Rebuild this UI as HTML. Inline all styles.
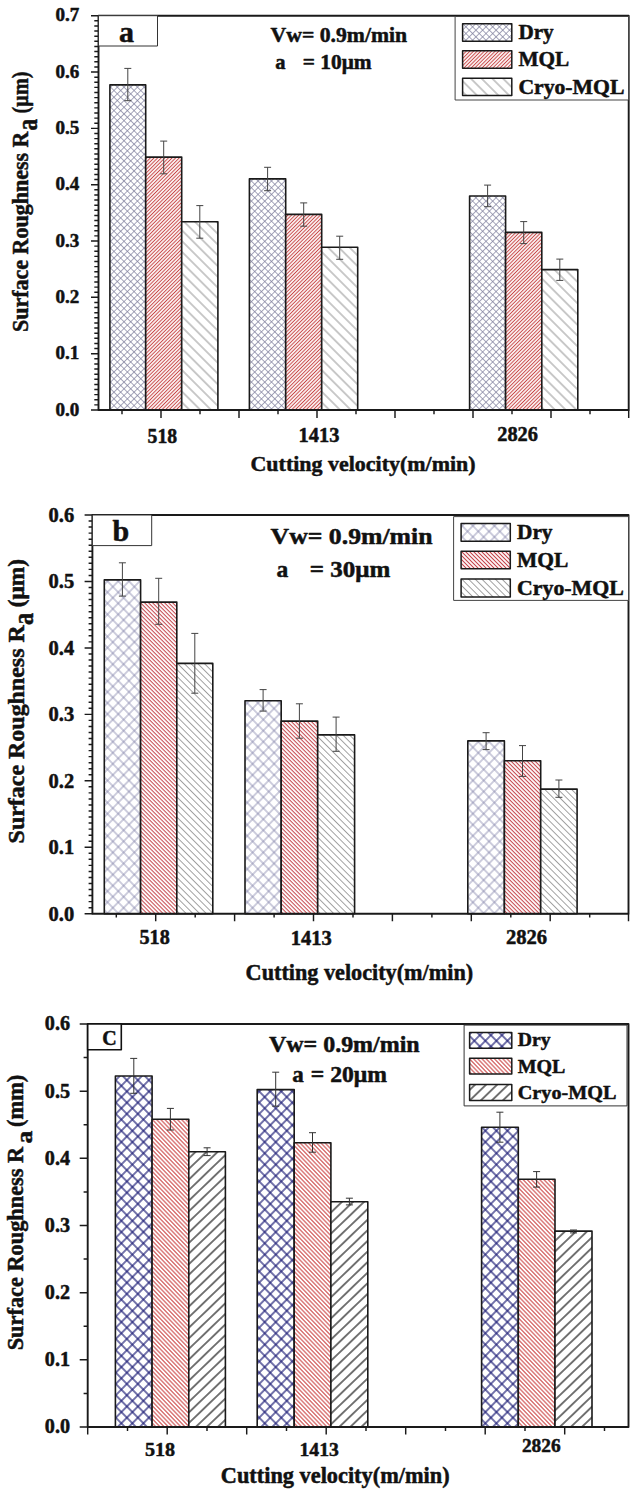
<!DOCTYPE html><html><head><meta charset="utf-8"><style>html,body{margin:0;padding:0;background:#fff}svg{display:block}</style></head><body><svg width="630" height="1489" viewBox="0 0 630 1489" font-family="Liberation Serif, serif" font-weight="bold" stroke="#111" stroke-width="0.5" stroke-linejoin="round" fill="#111">
<defs>
<pattern id="c1d" width="4.740" height="4.740" patternUnits="userSpaceOnUse" patternTransform="scale(1 1.0) rotate(45)"><line x1="2.370" y1="-1" x2="2.370" y2="5.740" stroke="#80809e" stroke-width="0.7"/><line x1="-1" y1="2.370" x2="5.740" y2="2.370" stroke="#80809e" stroke-width="0.7"/></pattern>
<pattern id="c1m" width="2.550" height="2.550" patternUnits="userSpaceOnUse" patternTransform="scale(1 1.0) rotate(45)"><line x1="1.275" y1="-1" x2="1.275" y2="3.550" stroke="#c84848" stroke-width="1.05"/></pattern>
<pattern id="c1c" width="7.600" height="7.600" patternUnits="userSpaceOnUse" patternTransform="scale(1 1.0) rotate(45)"><line x1="-1" y1="3.800" x2="8.600" y2="3.800" stroke="#909090" stroke-width="0.95"/></pattern>
<pattern id="c2d" width="7.600" height="7.600" patternUnits="userSpaceOnUse" patternTransform="scale(1 1.03) rotate(45)"><line x1="3.800" y1="-1" x2="3.800" y2="8.600" stroke="#7878a4" stroke-width="0.72"/><line x1="-1" y1="3.800" x2="8.600" y2="3.800" stroke="#7878a4" stroke-width="0.72"/></pattern>
<pattern id="c2m" width="2.830" height="2.830" patternUnits="userSpaceOnUse" patternTransform="scale(1 1.0) rotate(45)"><line x1="-1" y1="1.415" x2="3.830" y2="1.415" stroke="#c4444a" stroke-width="1.05"/></pattern>
<pattern id="c2c" width="4.740" height="4.740" patternUnits="userSpaceOnUse" patternTransform="scale(1 1.0) rotate(45)"><line x1="-1" y1="2.370" x2="5.740" y2="2.370" stroke="#969696" stroke-width="0.88"/></pattern>
<pattern id="c3d" width="7.800" height="7.800" patternUnits="userSpaceOnUse" patternTransform="scale(1 1.02) rotate(45)"><line x1="3.900" y1="-1" x2="3.900" y2="8.800" stroke="#1a1a74" stroke-width="1.2"/><line x1="-1" y1="3.900" x2="8.800" y2="3.900" stroke="#1a1a74" stroke-width="1.2"/></pattern>
<pattern id="c3m" width="2.950" height="2.950" patternUnits="userSpaceOnUse" patternTransform="scale(1 1.04) rotate(45)"><line x1="-1" y1="1.475" x2="3.950" y2="1.475" stroke="#cc4848" stroke-width="1.05"/></pattern>
<pattern id="c3c" width="7.800" height="7.800" patternUnits="userSpaceOnUse" patternTransform="scale(1 0.96) rotate(45)"><line x1="3.900" y1="-1" x2="3.900" y2="8.800" stroke="#151515" stroke-width="1.2"/></pattern>
</defs>
<rect width="630" height="1489" fill="#fff" stroke="none"/>
<rect x="109.9" y="84.9" width="35.8" height="325.1" fill="#fff" stroke="none"/>
<rect x="109.9" y="84.9" width="35.8" height="325.1" fill="url(#c1d)" stroke="#1a1a1a" stroke-width="1.6"/>
<rect x="145.7" y="157.1" width="36.0" height="252.9" fill="#fff" stroke="none"/>
<rect x="145.7" y="157.1" width="36.0" height="252.9" fill="url(#c1m)" stroke="#1a1a1a" stroke-width="1.6"/>
<rect x="181.7" y="221.8" width="36.2" height="188.2" fill="#fff" stroke="none"/>
<rect x="181.7" y="221.8" width="36.2" height="188.2" fill="url(#c1c)" stroke="#1a1a1a" stroke-width="1.6"/>
<rect x="249.4" y="178.9" width="36.3" height="231.1" fill="#fff" stroke="none"/>
<rect x="249.4" y="178.9" width="36.3" height="231.1" fill="url(#c1d)" stroke="#1a1a1a" stroke-width="1.6"/>
<rect x="285.7" y="214.4" width="36.0" height="195.6" fill="#fff" stroke="none"/>
<rect x="285.7" y="214.4" width="36.0" height="195.6" fill="url(#c1m)" stroke="#1a1a1a" stroke-width="1.6"/>
<rect x="321.7" y="247.3" width="36.0" height="162.7" fill="#fff" stroke="none"/>
<rect x="321.7" y="247.3" width="36.0" height="162.7" fill="url(#c1c)" stroke="#1a1a1a" stroke-width="1.6"/>
<rect x="469.6" y="196.0" width="36.0" height="214.0" fill="#fff" stroke="none"/>
<rect x="469.6" y="196.0" width="36.0" height="214.0" fill="url(#c1d)" stroke="#1a1a1a" stroke-width="1.6"/>
<rect x="505.6" y="232.4" width="36.2" height="177.6" fill="#fff" stroke="none"/>
<rect x="505.6" y="232.4" width="36.2" height="177.6" fill="url(#c1m)" stroke="#1a1a1a" stroke-width="1.6"/>
<rect x="541.8" y="269.6" width="36.0" height="140.4" fill="#fff" stroke="none"/>
<rect x="541.8" y="269.6" width="36.0" height="140.4" fill="url(#c1c)" stroke="#1a1a1a" stroke-width="1.6"/>
<path d="M127.8 68.4V100.7M124.3 68.4H131.3M124.3 100.7H131.3" stroke="#444" stroke-width="1" fill="none"/>
<path d="M163.7 141.1V173.8M160.2 141.1H167.2M160.2 173.8H167.2" stroke="#444" stroke-width="1" fill="none"/>
<path d="M199.8 205.6V238.2M196.3 205.6H203.3M196.3 238.2H203.3" stroke="#444" stroke-width="1" fill="none"/>
<path d="M267.6 167.3V190.7M264.1 167.3H271.1M264.1 190.7H271.1" stroke="#444" stroke-width="1" fill="none"/>
<path d="M303.7 202.9V226.2M300.2 202.9H307.2M300.2 226.2H307.2" stroke="#444" stroke-width="1" fill="none"/>
<path d="M339.7 236.2V259.3M336.2 236.2H343.2M336.2 259.3H343.2" stroke="#444" stroke-width="1" fill="none"/>
<path d="M487.6 185.1V206.7M484.1 185.1H491.1M484.1 206.7H491.1" stroke="#444" stroke-width="1" fill="none"/>
<path d="M523.7 221.6V243.6M520.2 221.6H527.2M520.2 243.6H527.2" stroke="#444" stroke-width="1" fill="none"/>
<path d="M559.8 259.1V280.4M556.3 259.1H563.3M556.3 280.4H563.3" stroke="#444" stroke-width="1" fill="none"/>
<rect x="98.5" y="15.7" width="530.2" height="394.3" fill="none" stroke="#1a1a1a" stroke-width="1.9"/>
<path d="M91.0 410.00H98.5M94.3 404.88H98.5M94.3 399.76H98.5M94.3 394.64H98.5M94.3 389.52H98.5M94.3 384.40H98.5M94.3 379.28H98.5M94.3 374.15H98.5M94.3 369.03H98.5M94.3 363.91H98.5M94.3 358.79H98.5M91.0 353.67H98.5M94.3 348.55H98.5M94.3 343.43H98.5M94.3 338.31H98.5M94.3 333.19H98.5M94.3 328.07H98.5M94.3 322.95H98.5M94.3 317.83H98.5M94.3 312.71H98.5M94.3 307.58H98.5M94.3 302.46H98.5M91.0 297.34H98.5M94.3 292.22H98.5M94.3 287.10H98.5M94.3 281.98H98.5M94.3 276.86H98.5M94.3 271.74H98.5M94.3 266.62H98.5M94.3 261.50H98.5M94.3 256.38H98.5M94.3 251.26H98.5M94.3 246.14H98.5M91.0 241.01H98.5M94.3 235.89H98.5M94.3 230.77H98.5M94.3 225.65H98.5M94.3 220.53H98.5M94.3 215.41H98.5M94.3 210.29H98.5M94.3 205.17H98.5M94.3 200.05H98.5M94.3 194.93H98.5M94.3 189.81H98.5M91.0 184.69H98.5M94.3 179.56H98.5M94.3 174.44H98.5M94.3 169.32H98.5M94.3 164.20H98.5M94.3 159.08H98.5M94.3 153.96H98.5M94.3 148.84H98.5M94.3 143.72H98.5M94.3 138.60H98.5M94.3 133.48H98.5M91.0 128.36H98.5M94.3 123.24H98.5M94.3 118.12H98.5M94.3 112.99H98.5M94.3 107.87H98.5M94.3 102.75H98.5M94.3 97.63H98.5M94.3 92.51H98.5M94.3 87.39H98.5M94.3 82.27H98.5M94.3 77.15H98.5M91.0 72.03H98.5M94.3 66.91H98.5M94.3 61.79H98.5M94.3 56.67H98.5M94.3 51.55H98.5M94.3 46.42H98.5M94.3 41.30H98.5M94.3 36.18H98.5M94.3 31.06H98.5M94.3 25.94H98.5M94.3 20.82H98.5M91.0 15.70H98.5" stroke="#1a1a1a" stroke-width="1.45" fill="none"/>
<path d="M161.0 410.0V418.0M239.0 410.0V418.0M317.0 410.0V418.0M395.0 410.0V418.0M473.0 410.0V418.0M551.0 410.0V418.0M628.7 410.0V418.0M122.0 410.0V414.3M200.0 410.0V414.3M278.0 410.0V414.3M356.0 410.0V414.3M434.0 410.0V414.3M512.0 410.0V414.3M590.0 410.0V414.3" stroke="#1a1a1a" stroke-width="1.45" fill="none"/>
<text x="79.3" y="415.6" font-size="18.2" text-anchor="end" textLength="23.8" lengthAdjust="spacingAndGlyphs" >0.0</text>
<text x="79.3" y="359.3" font-size="18.2" text-anchor="end" textLength="23.8" lengthAdjust="spacingAndGlyphs" >0.1</text>
<text x="79.3" y="302.9" font-size="18.2" text-anchor="end" textLength="23.8" lengthAdjust="spacingAndGlyphs" >0.2</text>
<text x="79.3" y="246.6" font-size="18.2" text-anchor="end" textLength="23.8" lengthAdjust="spacingAndGlyphs" >0.3</text>
<text x="79.3" y="190.3" font-size="18.2" text-anchor="end" textLength="23.8" lengthAdjust="spacingAndGlyphs" >0.4</text>
<text x="79.3" y="134.0" font-size="18.2" text-anchor="end" textLength="23.8" lengthAdjust="spacingAndGlyphs" >0.5</text>
<text x="79.3" y="77.6" font-size="18.2" text-anchor="end" textLength="23.8" lengthAdjust="spacingAndGlyphs" >0.6</text>
<text x="79.3" y="21.3" font-size="18.2" text-anchor="end" textLength="23.8" lengthAdjust="spacingAndGlyphs" >0.7</text>
<rect x="98.5" y="15.7" width="59.0" height="30.3" fill="#fff" stroke="#333" stroke-width="1.0"/>
<text x="126.5" y="41.7" font-size="30" text-anchor="middle" >a</text>
<text x="270.6" y="42.0" font-size="20.5" text-anchor="start" textLength="136.5" lengthAdjust="spacingAndGlyphs" >Vw= 0.9m/min</text>
<text x="275.3" y="68.8" font-size="20.5" text-anchor="start" >a</text>
<text x="302.8" y="68.8" font-size="20.5" text-anchor="start" textLength="68.8" lengthAdjust="spacingAndGlyphs" >= 10μm</text>
<rect x="455.1" y="16.5" width="173.4" height="83.5" fill="#fff" stroke="#444" stroke-width="1.0"/>
<rect x="462.6" y="23.7" width="49.2" height="17.5" fill="#fff" stroke="none"/>
<rect x="462.6" y="23.7" width="49.2" height="17.5" fill="url(#c1d)" stroke="#1a1a1a" stroke-width="1.5"/>
<text x="518.4" y="39.0" font-size="20.9" text-anchor="start" textLength="35.2" lengthAdjust="spacingAndGlyphs" >Dry</text>
<rect x="462.6" y="50.8" width="49.2" height="17.5" fill="#fff" stroke="none"/>
<rect x="462.6" y="50.8" width="49.2" height="17.5" fill="url(#c1m)" stroke="#1a1a1a" stroke-width="1.5"/>
<text x="518.4" y="65.6" font-size="20.9" text-anchor="start" textLength="50.8" lengthAdjust="spacingAndGlyphs" >MQL</text>
<rect x="462.6" y="78.3" width="49.2" height="17.2" fill="#fff" stroke="none"/>
<rect x="462.6" y="78.3" width="49.2" height="17.2" fill="url(#c1c)" stroke="#1a1a1a" stroke-width="1.5"/>
<text x="518.4" y="94.2" font-size="20.9" text-anchor="start" textLength="106.0" lengthAdjust="spacingAndGlyphs" >Cryo-MQL</text>
<text x="162.3" y="442.5" font-size="20" text-anchor="middle" textLength="29.5" lengthAdjust="spacingAndGlyphs" >518</text>
<text x="319.0" y="441.6" font-size="20" text-anchor="middle" textLength="40.8" lengthAdjust="spacingAndGlyphs" >1413</text>
<text x="517.6" y="440.7" font-size="20" text-anchor="middle" textLength="40.7" lengthAdjust="spacingAndGlyphs" >2826</text>
<text x="250.5" y="470.9" font-size="22" text-anchor="start" textLength="225.1" lengthAdjust="spacingAndGlyphs" >Cutting velocity(m/min)</text>
<text transform="translate(28.4,332.0) rotate(-90)" font-size="22.8" text-anchor="start" textLength="200.4" lengthAdjust="spacingAndGlyphs" >Surface Roughness R</text>
<text transform="translate(36.7,130.6) rotate(-90)" font-size="30" text-anchor="start" textLength="11.7" lengthAdjust="spacingAndGlyphs" >a</text>
<text transform="translate(28.4,113.4) rotate(-90)" font-size="22.8" text-anchor="start" textLength="42.0" lengthAdjust="spacingAndGlyphs" >(μm)</text>
<rect x="104.3" y="579.9" width="36.3" height="333.8" fill="#fff" stroke="none"/>
<rect x="104.3" y="579.9" width="36.3" height="333.8" fill="url(#c2d)" stroke="#1a1a1a" stroke-width="1.6"/>
<rect x="140.6" y="602.1" width="36.2" height="311.6" fill="#fff" stroke="none"/>
<rect x="140.6" y="602.1" width="36.2" height="311.6" fill="url(#c2m)" stroke="#1a1a1a" stroke-width="1.6"/>
<rect x="176.8" y="663.4" width="36.0" height="250.3" fill="#fff" stroke="none"/>
<rect x="176.8" y="663.4" width="36.0" height="250.3" fill="url(#c2c)" stroke="#1a1a1a" stroke-width="1.6"/>
<rect x="245.0" y="700.7" width="36.2" height="213.0" fill="#fff" stroke="none"/>
<rect x="245.0" y="700.7" width="36.2" height="213.0" fill="url(#c2d)" stroke="#1a1a1a" stroke-width="1.6"/>
<rect x="281.2" y="721.1" width="36.5" height="192.6" fill="#fff" stroke="none"/>
<rect x="281.2" y="721.1" width="36.5" height="192.6" fill="url(#c2m)" stroke="#1a1a1a" stroke-width="1.6"/>
<rect x="317.7" y="734.9" width="36.9" height="178.8" fill="#fff" stroke="none"/>
<rect x="317.7" y="734.9" width="36.9" height="178.8" fill="url(#c2c)" stroke="#1a1a1a" stroke-width="1.6"/>
<rect x="467.8" y="740.9" width="36.6" height="172.8" fill="#fff" stroke="none"/>
<rect x="467.8" y="740.9" width="36.6" height="172.8" fill="url(#c2d)" stroke="#1a1a1a" stroke-width="1.6"/>
<rect x="504.4" y="760.7" width="36.3" height="153.0" fill="#fff" stroke="none"/>
<rect x="504.4" y="760.7" width="36.3" height="153.0" fill="url(#c2m)" stroke="#1a1a1a" stroke-width="1.6"/>
<rect x="540.7" y="789.1" width="36.4" height="124.6" fill="#fff" stroke="none"/>
<rect x="540.7" y="789.1" width="36.4" height="124.6" fill="url(#c2c)" stroke="#1a1a1a" stroke-width="1.6"/>
<path d="M122.4 562.8V596.1M118.9 562.8H125.9M118.9 596.1H125.9" stroke="#444" stroke-width="1" fill="none"/>
<path d="M158.7 578.3V624.3M155.2 578.3H162.2M155.2 624.3H162.2" stroke="#444" stroke-width="1" fill="none"/>
<path d="M194.8 633.4V693.2M191.3 633.4H198.3M191.3 693.2H198.3" stroke="#444" stroke-width="1" fill="none"/>
<path d="M263.1 689.6V711.1M259.6 689.6H266.6M259.6 711.1H266.6" stroke="#444" stroke-width="1" fill="none"/>
<path d="M299.4 703.8V738.2M295.9 703.8H302.9M295.9 738.2H302.9" stroke="#444" stroke-width="1" fill="none"/>
<path d="M336.1 717.1V751.3M332.6 717.1H339.6M332.6 751.3H339.6" stroke="#444" stroke-width="1" fill="none"/>
<path d="M486.1 732.7V749.6M482.6 732.7H489.6M482.6 749.6H489.6" stroke="#444" stroke-width="1" fill="none"/>
<path d="M522.5 745.6V776.4M519.0 745.6H526.0M519.0 776.4H526.0" stroke="#444" stroke-width="1" fill="none"/>
<path d="M558.9 780.0V797.3M555.4 780.0H562.4M555.4 797.3H562.4" stroke="#444" stroke-width="1" fill="none"/>
<rect x="92.4" y="515.0" width="536.1" height="398.7" fill="none" stroke="#1a1a1a" stroke-width="1.9"/>
<path d="M84.6 913.70H92.4M88.6 907.66H92.4M88.6 901.62H92.4M88.6 895.58H92.4M88.6 889.54H92.4M88.6 883.50H92.4M88.6 877.45H92.4M88.6 871.41H92.4M88.6 865.37H92.4M88.6 859.33H92.4M88.6 853.29H92.4M84.6 847.25H92.4M88.6 841.21H92.4M88.6 835.17H92.4M88.6 829.13H92.4M88.6 823.09H92.4M88.6 817.05H92.4M88.6 811.00H92.4M88.6 804.96H92.4M88.6 798.92H92.4M88.6 792.88H92.4M88.6 786.84H92.4M84.6 780.80H92.4M88.6 774.76H92.4M88.6 768.72H92.4M88.6 762.68H92.4M88.6 756.64H92.4M88.6 750.60H92.4M88.6 744.55H92.4M88.6 738.51H92.4M88.6 732.47H92.4M88.6 726.43H92.4M88.6 720.39H92.4M84.6 714.35H92.4M88.6 708.31H92.4M88.6 702.27H92.4M88.6 696.23H92.4M88.6 690.19H92.4M88.6 684.15H92.4M88.6 678.10H92.4M88.6 672.06H92.4M88.6 666.02H92.4M88.6 659.98H92.4M88.6 653.94H92.4M84.6 647.90H92.4M88.6 641.86H92.4M88.6 635.82H92.4M88.6 629.78H92.4M88.6 623.74H92.4M88.6 617.70H92.4M88.6 611.65H92.4M88.6 605.61H92.4M88.6 599.57H92.4M88.6 593.53H92.4M88.6 587.49H92.4M84.6 581.45H92.4M88.6 575.41H92.4M88.6 569.37H92.4M88.6 563.33H92.4M88.6 557.29H92.4M88.6 551.25H92.4M88.6 545.20H92.4M88.6 539.16H92.4M88.6 533.12H92.4M88.6 527.08H92.4M88.6 521.04H92.4M84.6 515.00H92.4" stroke="#1a1a1a" stroke-width="1.45" fill="none"/>
<path d="M155.7 913.7V921.2M234.6 913.7V921.2M313.5 913.7V921.2M392.4 913.7V921.2M471.3 913.7V921.2M550.2 913.7V921.2M628.5 913.7V921.2M116.3 913.7V917.5M195.2 913.7V917.5M274.1 913.7V917.5M353.0 913.7V917.5M431.9 913.7V917.5M510.8 913.7V917.5M589.7 913.7V917.5" stroke="#1a1a1a" stroke-width="1.45" fill="none"/>
<text x="74.2" y="920.5" font-size="20.4" text-anchor="end" textLength="25.6" lengthAdjust="spacingAndGlyphs" >0.0</text>
<text x="74.2" y="854.0" font-size="20.4" text-anchor="end" textLength="25.6" lengthAdjust="spacingAndGlyphs" >0.1</text>
<text x="74.2" y="787.6" font-size="20.4" text-anchor="end" textLength="25.6" lengthAdjust="spacingAndGlyphs" >0.2</text>
<text x="74.2" y="721.1" font-size="20.4" text-anchor="end" textLength="25.6" lengthAdjust="spacingAndGlyphs" >0.3</text>
<text x="74.2" y="654.7" font-size="20.4" text-anchor="end" textLength="25.6" lengthAdjust="spacingAndGlyphs" >0.4</text>
<text x="74.2" y="588.2" font-size="20.4" text-anchor="end" textLength="25.6" lengthAdjust="spacingAndGlyphs" >0.5</text>
<text x="74.2" y="521.8" font-size="20.4" text-anchor="end" textLength="25.6" lengthAdjust="spacingAndGlyphs" >0.6</text>
<rect x="92.4" y="515.0" width="59.3" height="30.6" fill="#fff" stroke="#333" stroke-width="1.0"/>
<text x="120.9" y="540.9" font-size="30" text-anchor="middle" >b</text>
<text x="270.6" y="544.1" font-size="23.5" text-anchor="start" textLength="161.9" lengthAdjust="spacingAndGlyphs" >Vw= 0.9m/min</text>
<text x="276.4" y="577.0" font-size="23.5" text-anchor="start" >a</text>
<text x="309.8" y="577.0" font-size="23.5" text-anchor="start" textLength="80.5" lengthAdjust="spacingAndGlyphs" >= 30μm</text>
<rect x="453.6" y="516.6" width="174.9" height="83.8" fill="#fff" stroke="#444" stroke-width="1.0"/>
<rect x="461.1" y="523.5" width="49.2" height="17.8" fill="#fff" stroke="none"/>
<rect x="461.1" y="523.5" width="49.2" height="17.8" fill="url(#c2d)" stroke="#1a1a1a" stroke-width="1.5"/>
<text x="517.0" y="539.0" font-size="20.8" text-anchor="start" textLength="35.5" lengthAdjust="spacingAndGlyphs" >Dry</text>
<rect x="461.1" y="551.3" width="49.2" height="17.5" fill="#fff" stroke="none"/>
<rect x="461.1" y="551.3" width="49.2" height="17.5" fill="url(#c2m)" stroke="#1a1a1a" stroke-width="1.5"/>
<text x="517.0" y="566.6" font-size="20.8" text-anchor="start" textLength="51.3" lengthAdjust="spacingAndGlyphs" >MQL</text>
<rect x="461.1" y="579.0" width="49.2" height="18.1" fill="#fff" stroke="none"/>
<rect x="461.1" y="579.0" width="49.2" height="18.1" fill="url(#c2c)" stroke="#1a1a1a" stroke-width="1.5"/>
<text x="517.0" y="594.6" font-size="20.8" text-anchor="start" textLength="106.8" lengthAdjust="spacingAndGlyphs" >Cryo-MQL</text>
<text x="154.6" y="944.1" font-size="20" text-anchor="middle" textLength="30.2" lengthAdjust="spacingAndGlyphs" >518</text>
<text x="311.2" y="944.7" font-size="20" text-anchor="middle" textLength="41.0" lengthAdjust="spacingAndGlyphs" >1413</text>
<text x="526.5" y="944.3" font-size="20" text-anchor="middle" textLength="41.2" lengthAdjust="spacingAndGlyphs" >2826</text>
<text x="245.6" y="979.8" font-size="23" text-anchor="start" textLength="227.6" lengthAdjust="spacingAndGlyphs" >Cutting velocity(m/min)</text>
<text transform="translate(23.8,843.4) rotate(-90)" font-size="22.5" text-anchor="start" textLength="218.2" lengthAdjust="spacingAndGlyphs" >Surface Roughness R</text>
<text transform="translate(33.3,624.9) rotate(-90)" font-size="29" text-anchor="start" textLength="12.2" lengthAdjust="spacingAndGlyphs" >a</text>
<text transform="translate(23.8,607.2) rotate(-90)" font-size="22.5" text-anchor="start" textLength="48.2" lengthAdjust="spacingAndGlyphs" >(μm)</text>
<rect x="115.4" y="1076.0" width="36.7" height="351.0" fill="#fff" stroke="none"/>
<rect x="115.4" y="1076.0" width="36.7" height="351.0" fill="url(#c3d)" stroke="#1a1a1a" stroke-width="1.6"/>
<rect x="152.1" y="1119.3" width="36.7" height="307.7" fill="#fff" stroke="none"/>
<rect x="152.1" y="1119.3" width="36.7" height="307.7" fill="url(#c3m)" stroke="#1a1a1a" stroke-width="1.6"/>
<rect x="188.8" y="1151.8" width="36.6" height="275.2" fill="#fff" stroke="none"/>
<rect x="188.8" y="1151.8" width="36.6" height="275.2" fill="url(#c3c)" stroke="#1a1a1a" stroke-width="1.6"/>
<rect x="257.2" y="1089.6" width="37.0" height="337.4" fill="#fff" stroke="none"/>
<rect x="257.2" y="1089.6" width="37.0" height="337.4" fill="url(#c3d)" stroke="#1a1a1a" stroke-width="1.6"/>
<rect x="294.2" y="1142.7" width="36.7" height="284.3" fill="#fff" stroke="none"/>
<rect x="294.2" y="1142.7" width="36.7" height="284.3" fill="url(#c3m)" stroke="#1a1a1a" stroke-width="1.6"/>
<rect x="330.9" y="1201.8" width="36.9" height="225.2" fill="#fff" stroke="none"/>
<rect x="330.9" y="1201.8" width="36.9" height="225.2" fill="url(#c3c)" stroke="#1a1a1a" stroke-width="1.6"/>
<rect x="481.6" y="1127.3" width="36.7" height="299.7" fill="#fff" stroke="none"/>
<rect x="481.6" y="1127.3" width="36.7" height="299.7" fill="url(#c3d)" stroke="#1a1a1a" stroke-width="1.6"/>
<rect x="518.3" y="1179.3" width="36.7" height="247.7" fill="#fff" stroke="none"/>
<rect x="518.3" y="1179.3" width="36.7" height="247.7" fill="url(#c3m)" stroke="#1a1a1a" stroke-width="1.6"/>
<rect x="555.0" y="1231.1" width="37.0" height="195.9" fill="#fff" stroke="none"/>
<rect x="555.0" y="1231.1" width="37.0" height="195.9" fill="url(#c3c)" stroke="#1a1a1a" stroke-width="1.6"/>
<path d="M133.8 1058.4V1093.3M130.2 1058.4H137.2M130.2 1093.3H137.2" stroke="#333" stroke-width="1" fill="none"/>
<path d="M170.4 1108.4V1130.0M166.9 1108.4H173.9M166.9 1130.0H173.9" stroke="#333" stroke-width="1" fill="none"/>
<path d="M207.1 1147.8V1155.6M203.6 1147.8H210.6M203.6 1155.6H210.6" stroke="#333" stroke-width="1" fill="none"/>
<path d="M275.7 1072.2V1106.2M272.2 1072.2H279.2M272.2 1106.2H279.2" stroke="#333" stroke-width="1" fill="none"/>
<path d="M312.5 1132.7V1152.2M309.0 1132.7H316.0M309.0 1152.2H316.0" stroke="#333" stroke-width="1" fill="none"/>
<path d="M349.4 1198.2V1204.9M345.9 1198.2H352.9M345.9 1204.9H352.9" stroke="#333" stroke-width="1" fill="none"/>
<path d="M499.9 1112.2V1142.2M496.4 1112.2H503.4M496.4 1142.2H503.4" stroke="#333" stroke-width="1" fill="none"/>
<path d="M536.6 1171.6V1187.1M533.1 1171.6H540.1M533.1 1187.1H540.1" stroke="#333" stroke-width="1" fill="none"/>
<path d="M573.5 1230.0V1232.9M570.0 1230.0H577.0M570.0 1232.9H577.0" stroke="#333" stroke-width="1" fill="none"/>
<rect x="87.7" y="1024.0" width="540.8" height="403.0" fill="none" stroke="#1a1a1a" stroke-width="1.9"/>
<path d="M79.7 1427.00H87.7M83.6 1393.42H87.7M79.7 1359.83H87.7M83.6 1326.25H87.7M79.7 1292.67H87.7M83.6 1259.08H87.7M79.7 1225.50H87.7M83.6 1191.92H87.7M79.7 1158.33H87.7M83.6 1124.75H87.7M79.7 1091.17H87.7M83.6 1057.58H87.7M79.7 1024.00H87.7" stroke="#1a1a1a" stroke-width="1.45" fill="none"/>
<path d="M167.2 1427.0V1434.6M246.7 1427.0V1434.6M326.2 1427.0V1434.6M405.7 1427.0V1434.6M485.2 1427.0V1434.6M564.7 1427.0V1434.6M87.7 1427.0V1434.6M127.5 1427.0V1431.0M207.0 1427.0V1431.0M286.5 1427.0V1431.0M366.0 1427.0V1431.0M445.5 1427.0V1431.0M525.0 1427.0V1431.0M604.5 1427.0V1431.0" stroke="#1a1a1a" stroke-width="1.45" fill="none"/>
<text x="70.0" y="1433.4" font-size="20.0" text-anchor="end" textLength="25.2" lengthAdjust="spacingAndGlyphs" >0.0</text>
<text x="70.0" y="1366.2" font-size="20.0" text-anchor="end" textLength="25.2" lengthAdjust="spacingAndGlyphs" >0.1</text>
<text x="70.0" y="1299.1" font-size="20.0" text-anchor="end" textLength="25.2" lengthAdjust="spacingAndGlyphs" >0.2</text>
<text x="70.0" y="1231.9" font-size="20.0" text-anchor="end" textLength="25.2" lengthAdjust="spacingAndGlyphs" >0.3</text>
<text x="70.0" y="1164.7" font-size="20.0" text-anchor="end" textLength="25.2" lengthAdjust="spacingAndGlyphs" >0.4</text>
<text x="70.0" y="1097.6" font-size="20.0" text-anchor="end" textLength="25.2" lengthAdjust="spacingAndGlyphs" >0.5</text>
<text x="70.0" y="1030.4" font-size="20.0" text-anchor="end" textLength="25.2" lengthAdjust="spacingAndGlyphs" >0.6</text>
<rect x="87.7" y="1024.0" width="33.6" height="25.7" fill="#fff" stroke="#111" stroke-width="1.6"/>
<text x="109.5" y="1044.5" font-size="20" text-anchor="middle" >C</text>
<text x="268.9" y="1051.7" font-size="23" text-anchor="start" textLength="150.8" lengthAdjust="spacingAndGlyphs" >Vw= 0.9m/min</text>
<text x="292.2" y="1081.9" font-size="23" text-anchor="start" >a</text>
<text x="310.8" y="1081.9" font-size="23" text-anchor="start" textLength="76.2" lengthAdjust="spacingAndGlyphs" >= 20μm</text>
<rect x="464.1" y="1025.1" width="162.9" height="80.8" fill="#fff" stroke="#333" stroke-width="1.0"/>
<rect x="469.6" y="1032.6" width="42.2" height="15.7" fill="#fff" stroke="none"/>
<rect x="469.6" y="1032.6" width="42.2" height="15.7" fill="url(#c3d)" stroke="#1a1a1a" stroke-width="1.5"/>
<text x="517.8" y="1046.0" font-size="19.7" text-anchor="start" textLength="32.8" lengthAdjust="spacingAndGlyphs" >Dry</text>
<rect x="469.6" y="1058.3" width="42.2" height="15.6" fill="#fff" stroke="none"/>
<rect x="469.6" y="1058.3" width="42.2" height="15.6" fill="url(#c3m)" stroke="#1a1a1a" stroke-width="1.5"/>
<text x="517.8" y="1072.6" font-size="19.7" text-anchor="start" textLength="47.6" lengthAdjust="spacingAndGlyphs" >MQL</text>
<rect x="469.6" y="1084.5" width="42.2" height="16.0" fill="#fff" stroke="none"/>
<rect x="469.6" y="1084.5" width="42.2" height="16.0" fill="url(#c3c)" stroke="#1a1a1a" stroke-width="1.5"/>
<text x="517.8" y="1098.9" font-size="19.7" text-anchor="start" textLength="98.6" lengthAdjust="spacingAndGlyphs" >Cryo-MQL</text>
<text x="160.0" y="1456.0" font-size="19.5" text-anchor="middle" textLength="30.2" lengthAdjust="spacingAndGlyphs" >518</text>
<text x="319.2" y="1455.6" font-size="19.5" text-anchor="middle" textLength="39.4" lengthAdjust="spacingAndGlyphs" >1413</text>
<text x="541.3" y="1452.4" font-size="19.5" text-anchor="middle" textLength="38.8" lengthAdjust="spacingAndGlyphs" >2826</text>
<text x="220.8" y="1482.6" font-size="22.5" text-anchor="start" textLength="228.8" lengthAdjust="spacingAndGlyphs" >Cutting velocity(m/min)</text>
<text transform="translate(22.8,1350.3) rotate(-90)" font-size="22.8" text-anchor="start" textLength="203.5" lengthAdjust="spacingAndGlyphs" >Surface Roughness R</text>
<text transform="translate(31.9,1143.4) rotate(-90)" font-size="23" text-anchor="start" textLength="12.8" lengthAdjust="spacingAndGlyphs" >a</text>
<text transform="translate(22.8,1126.9) rotate(-90)" font-size="22.8" text-anchor="start" textLength="52.1" lengthAdjust="spacingAndGlyphs" >(mm)</text>
</svg></body></html>
